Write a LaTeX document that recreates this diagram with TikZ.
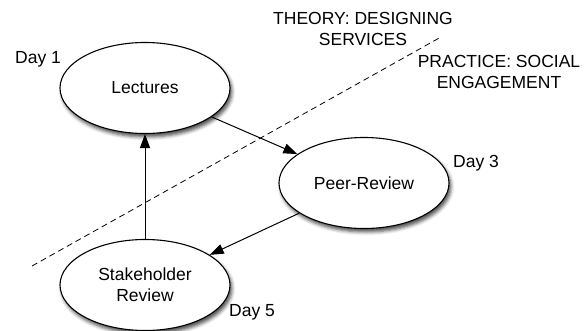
\documentclass[tikz,border=0pt]{standalone}
\usepackage{fontspec}
\setmainfont{Liberation Sans}
\usetikzlibrary{shapes.geometric,arrows.meta,shadows.blur}
\tikzset{
  phase/.style={ellipse, draw=black, line width=1.1pt, fill=white,
    minimum width=170pt, minimum height=91pt, inner sep=0pt, align=center,
    font=\fontsize{17.5}{21}\selectfont,
    blur shadow={shadow xshift=2pt, shadow yshift=-3.5pt, shadow blur radius=3.5pt, shadow opacity=70}},
  lbl/.style={inner sep=0pt, align=center, font=\fontsize{17.5}{21}\selectfont},
  flow/.style={line width=1pt, -{Triangle[length=14pt,width=10pt]}},
  divider/.style={line width=0.8pt, dash pattern=on 6pt off 4pt}
}
\begin{document}
\begin{tikzpicture}[x=1pt,y=-1pt]
\useasboundingbox (0,0) rectangle (586,331);
% dividing line
\coordinate (dA) at (32,266);
\coordinate (dB) at (441,37);
\draw[divider] (dA) -- (dB);
% nodes
\node[phase] (lec) at (145,88) {Lectures};
\node[phase] (peer) at (364,183) {Peer-Review};
\node[phase] (stake) at (145,285) {Stakeholder\\Review};
% labels
\node[lbl] (d1) at (38,59) {Day 1};
\node[lbl] (d3) at (476,163) {Day 3};
\node[lbl] (d5) at (252,312) {Day 5};
\node[lbl] (theory) at (363,29) {THEORY: DESIGNING\\SERVICES};
\node[lbl] (practice) at (499,72) {PRACTICE: SOCIAL\\ENGAGEMENT};
% connectors
\draw[flow] (lec) -- (peer);
\draw[flow] (peer) -- (stake);
\draw[flow] (stake.north) -- (lec.south);
\end{tikzpicture}
\end{document}
